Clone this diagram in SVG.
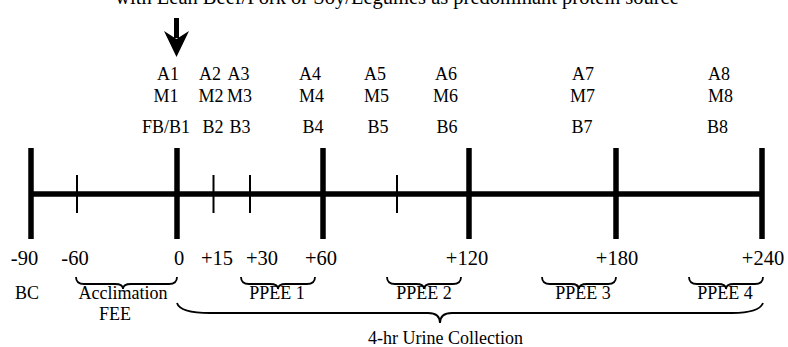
<svg xmlns="http://www.w3.org/2000/svg" width="788" height="347" viewBox="0 0 788 347">
<style>
text{font-family:"Liberation Serif","Times New Roman",serif;fill:#000}
.lb{font-size:18px;text-anchor:middle}
.num{font-size:20.5px;text-anchor:middle}
.big{stroke:#000;stroke-width:5.5;fill:none}
.thin{stroke:#000;stroke-width:2;fill:none}
.brace{stroke:#000;stroke-width:1.8;fill:none}
</style>
<rect width="788" height="347" fill="#fff"/>
<text x="397" y="4" style="font-size:20.5px;text-anchor:middle">with Lean Beef/Pork or Soy/Legumes as predominant protein source</text>
<g id="arrow">
<rect x="174" y="18" width="5" height="20" fill="#000"/>
<polygon points="176.5,57 164,31 176.5,39 189,31" fill="#000"/>
</g>
<g id="top-labels">
<text class="lb" x="168" y="80">A1</text><text class="lb" x="166" y="102">M1</text><text class="lb" x="166" y="133">FB/B1</text>
<text class="lb" x="210" y="80">A2</text><text class="lb" x="211" y="102">M2</text><text class="lb" x="213" y="133">B2</text>
<text class="lb" x="238.5" y="80">A3</text><text class="lb" x="239.5" y="102">M3</text><text class="lb" x="240" y="133">B3</text>
<text class="lb" x="310" y="80">A4</text><text class="lb" x="311.5" y="102">M4</text><text class="lb" x="313" y="133">B4</text>
<text class="lb" x="375" y="80">A5</text><text class="lb" x="376.5" y="102">M5</text><text class="lb" x="378" y="133">B5</text>
<text class="lb" x="446" y="80">A6</text><text class="lb" x="445.5" y="102">M6</text><text class="lb" x="447" y="133">B6</text>
<text class="lb" x="583" y="80">A7</text><text class="lb" x="582.5" y="102">M7</text><text class="lb" x="582" y="133">B7</text>
<text class="lb" x="719" y="80">A8</text><text class="lb" x="720.5" y="102">M8</text><text class="lb" x="717.5" y="133">B8</text>
</g>
<g id="timeline">
<line class="big" x1="31" y1="194" x2="762" y2="194"/>
<line class="big" x1="31" y1="148" x2="31" y2="239"/>
<line class="big" x1="177" y1="148" x2="177" y2="239"/>
<line class="big" x1="323" y1="148" x2="323" y2="239"/>
<line class="big" x1="469" y1="148" x2="469" y2="239"/>
<line class="big" x1="616" y1="148" x2="616" y2="239"/>
<line class="big" x1="762" y1="148" x2="762" y2="239"/>
<line class="thin" x1="77" y1="175" x2="77" y2="213"/>
<line class="thin" x1="213.5" y1="175" x2="213.5" y2="213"/>
<line class="thin" x1="250" y1="175" x2="250" y2="213"/>
<line class="thin" x1="397" y1="175" x2="397" y2="213"/>
</g>
<g id="numbers">
<text class="num" x="24.5" y="265">-90</text>
<text class="num" x="75" y="265">-60</text>
<text class="num" x="179" y="265">0</text>
<text class="num" x="217" y="265">+15</text>
<text class="num" x="262" y="265">+30</text>
<text class="num" x="321" y="265">+60</text>
<text class="num" x="467" y="265">+120</text>
<text class="num" x="617" y="265">+180</text>
<text class="num" x="763" y="265">+240</text>
</g>
<g id="braces">
<path class="brace" d="M76,277 Q76,284 84,284 L115,284 Q123,284 123,289 Q123,284 131,284 L169,284 Q177,284 177,277"/>
<path class="brace" d="M241,277 Q241,284 249,284 L270,284 Q278,284 278,289 Q278,284 286,284 L307,284 Q315,284 315,277"/>
<path class="brace" d="M387,277 Q387,284 395,284 L416,284 Q424,284 424,289 Q424,284 432,284 L453,284 Q461,284 461,277"/>
<path class="brace" d="M542,277 Q542,284 550,284 L571,284 Q579,284 579,289 Q579,284 587,284 L608,284 Q616,284 616,277"/>
<path class="brace" d="M689,277 Q689,284 697,284 L718,284 Q726,284 726,289 Q726,284 734,284 L755,284 Q763,284 763,277"/>
<path class="brace" d="M177,303 Q180,313 210,313 L428,313 Q440,313 440,323 Q440,313 452,313 L732,313 Q759,313 763,303"/>
</g>
<g id="bottom-labels">
<text class="lb" x="27" y="299">BC</text>
<text class="lb" x="123" y="299">Acclimation</text>
<text class="lb" x="115" y="320">FEE</text>
<text class="lb" x="277" y="299">PPEE 1</text>
<text class="lb" x="424" y="299">PPEE 2</text>
<text class="lb" x="583" y="299">PPEE 3</text>
<text class="lb" x="725" y="299">PPEE 4</text>
<text class="lb" x="445.5" y="344">4-hr Urine Collection</text>
</g>
</svg>
